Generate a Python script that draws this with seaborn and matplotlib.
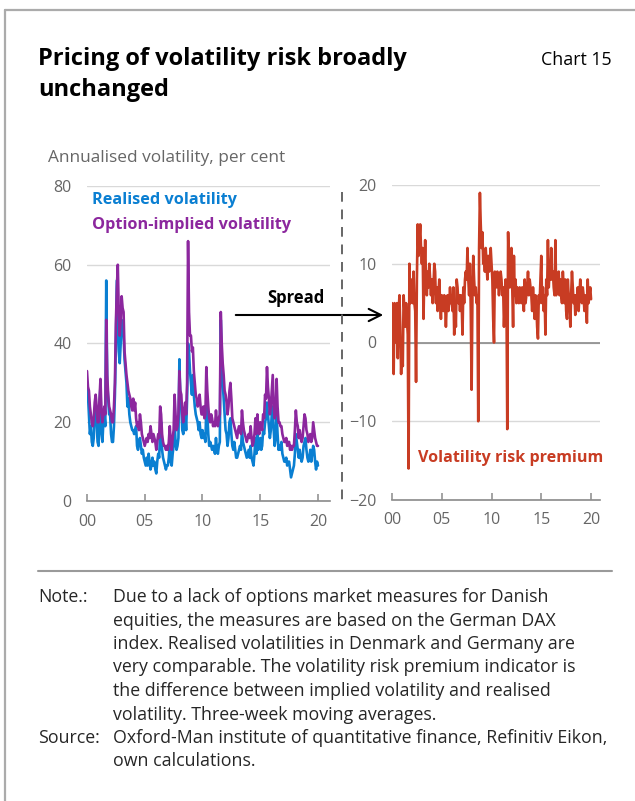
import seaborn as sns
import matplotlib.pyplot as plt
from matplotlib.lines import Line2D
import pandas as pd
import numpy as np

# monthly readings, Jan 2000 .. Jan 2020
realised = [
    30, 27, 22, 17, 19, 15, 14, 16, 23, 25, 20, 15,   # 2000
    14, 25, 29, 17, 15, 20, 22, 19, 56, 30, 26, 22,   # 2001
    22, 17, 15, 15, 19, 27, 40, 56, 47, 38, 35, 40,   # 2002
    46, 44, 42, 36, 33, 30, 24, 26, 22, 20, 19, 18,   # 2003
    18, 17, 18, 19, 14, 13, 15, 16, 14, 12, 13, 11,   # 2004
    10, 9, 11, 9, 12, 10, 8, 9, 11, 9, 10, 8,         # 2005
    7, 10, 12, 11, 18, 20, 13, 11, 10, 9, 8, 9,       # 2006
    9, 11, 15, 10, 9, 12, 14, 20, 15, 13, 14, 16,     # 2007
    36, 25, 24, 18, 17, 19, 22, 18, 26, 40, 38, 33,   # 2008
    30, 27, 32, 27, 24, 22, 21, 20, 18, 20, 17, 16,   # 2009
    18, 16, 17, 15, 24, 22, 17, 14, 15, 14, 13, 14,   # 2010
    13, 12, 16, 13, 12, 14, 15, 46, 36, 30, 26, 22,   # 2011
    18, 17, 14, 16, 20, 21, 17, 14, 13, 15, 13, 11,   # 2012
    11, 12, 13, 14, 13, 18, 15, 14, 13, 12, 11, 12,   # 2013
    13, 11, 14, 11, 10, 9, 12, 16, 12, 17, 13, 14,    # 2014
    16, 13, 14, 18, 17, 20, 21, 25, 22, 19, 16, 18,   # 2015
    22, 24, 18, 14, 16, 22, 17, 13, 14, 13, 15, 12,   # 2016
    11, 10, 10, 11, 9, 10, 10, 8, 6, 7, 8, 9,         # 2017
    12, 17, 15, 13, 11, 13, 11, 10, 11, 14, 15, 16,   # 2018
    13, 11, 10, 11, 13, 10, 12, 14, 13, 10, 8, 10,    # 2019
    9,                                                # 2020
]

implied = [
    33, 29, 28, 24, 22, 20, 19, 21, 25, 27, 24, 20,   # 2000
    20, 26, 31, 23, 20, 22, 24, 22, 46, 32, 27, 24,   # 2001
    23, 22, 20, 20, 24, 30, 45, 54, 60, 48, 42, 46,   # 2002
    52, 49, 48, 38, 35, 32, 30, 28, 27, 26, 24, 23,   # 2003
    26, 23, 25, 21, 19, 20, 18, 22, 20, 17, 16, 15,   # 2004
    14, 15, 16, 15, 17, 16, 19, 17, 15, 17, 16, 15,   # 2005
    13, 15, 17, 16, 24, 22, 17, 15, 14, 14, 13, 14,   # 2006
    13, 15, 19, 15, 13, 16, 18, 27, 22, 18, 19, 22,   # 2007
    33, 28, 27, 22, 20, 23, 25, 22, 30, 66, 48, 42,   # 2008
    42, 38, 39, 33, 30, 27, 26, 24, 25, 27, 24, 22,   # 2009
    22, 24, 21, 22, 34, 28, 24, 21, 20, 22, 21, 19,   # 2010
    20, 19, 23, 20, 19, 21, 22, 48, 40, 35, 32, 28,   # 2011
    27, 25, 22, 24, 28, 30, 26, 21, 20, 19, 18, 17,   # 2012
    16, 18, 19, 18, 17, 23, 20, 18, 17, 16, 15, 16,   # 2013
    17, 16, 19, 16, 14, 15, 17, 21, 17, 22, 18, 17,   # 2014
    20, 19, 18, 22, 21, 27, 26, 34, 29, 26, 22, 24,   # 2015
    28, 32, 24, 21, 22, 31, 24, 20, 20, 19, 19, 17,   # 2016
    16, 15, 15, 16, 14, 15, 15, 13, 14, 13, 14, 14,   # 2017
    18, 23, 20, 19, 16, 18, 16, 15, 16, 19, 22, 21,   # 2018
    18, 17, 15, 16, 17, 15, 16, 20, 18, 16, 15, 14,   # 2019
    14,                                               # 2020
]

premium = [
    5, 1, -4, 5, 3, 0, 5, -2, 4, 6, 2, -4,            # 2000
    0, -3, 6, 4, 2, 5, 3, 1, -16, 10, 5, 8,           # 2001
    6, 5, 9, 5, 4, -5, 8, 15, 11, 13, 15, 12,         # 2002
    10, 12, 3, 9, 13, 8, 6, 9, 7, 10, 8, 6,           # 2003
    8, 5, 7, 10, 9, 5, 7, 4, 6, 8, 5, 3,              # 2004
    6, 5, 4, 6, 5, 2, 5, 6, 4, 5, 7, 5,               # 2005
    6, 4, 7, 1, 5, 2, 8, 7, 5, 6, 4, 6,               # 2006
    5, 1, 7, 5, 8, 9, 8, 12, 8, 6, 10, 4,             # 2007
    -6, 6, 11, 8, 6, 7, 5, 6, -10, 12, 19, 15,        # 2008
    12, 14, 10, 11, 9, 12, 10, 8, 11, 9, 10, 12,      # 2009
    10, 8, 3, 0, 9, 8, 7, 9, 8, 6, 8, 9,              # 2010
    8, 6, 7, 2, 5, 8, 6, -11, 14, 9, 7, 10,           # 2011
    12, 7, 2, 11, 6, 8, 5, 7, 6, 5, 7, 6,             # 2012
    5, 7, 6, 4, 8, 5, 6, 7, 9, 6, 8, 7,               # 2013
    6, 4, 7, 5, 3, 6, 5, 2, 0.5, 6, 5, 8,             # 2014
    11, 5, 7, 4, 6, 1, 8, 6, 13, 7, 9, 8,             # 2015
    12, 8, 9, 7, 6, 13, 6, 8, 7, 9, 6, 8,             # 2016
    6, 5, 9, 7, 5, 8, 4, 3, 8, 6, 5, 2,               # 2017
    6, 9, 7, 5, 6, 3.5, 6, 5, 7, 4, 6, 8,             # 2018
    6, 5, 7, 6, 4, 6, 5, 2.5, 8, 5, 6, 7,             # 2019
    5.5,                                              # 2020
]

year_ticks = [2000, 2005, 2010, 2015, 2020]
year_labels = ["00", "05", "10", "15", "20"]

note_lines = [
    "Due to a lack of options market measures for Danish",
    "equities, the measures are based on the German DAX",
    "index. Realised volatilities in Denmark and Germany are",
    "very comparable. The volatility risk premium indicator is",
    "the difference between implied volatility and realised",
    "volatility. Three-week moving averages.",
]
source_lines = [
    "Oxford-Man institute of quantitative finance, Refinitiv Eikon,",
    "own calculations.",
]

BLUE = "#0a7fd2"
PURPLE = "#8c279e"
RED = "#c83c23"
GRID = "#d9d9d9"
TICK = "#666666"

years = 2000 + np.arange(len(realised)) / 12
vol = pd.DataFrame({
    "year": np.concatenate([years, years]),
    "value": realised + implied,
    "series": ["Realised"] * len(realised) + ["Implied"] * len(implied),
})
vrp = pd.DataFrame({"year": 2000 + np.arange(len(premium)) / 12, "value": premium})

sns.set_theme(style="white")
plt.rcParams["font.family"] = ["Open Sans", "DejaVu Sans"]

W, H = 635, 801
fig = plt.figure(figsize=(W / 100, H / 100), dpi=100)

def fx(px):
    return px / W

def fy(px):
    return 1 - px / H

ax1 = fig.add_axes([fx(87), 300 / H, 243 / W, 315 / H])
ax2 = fig.add_axes([fx(392), 301 / H, 208 / W, 315 / H])

sns.lineplot(data=vol, x="year", y="value", hue="series",
             palette={"Realised": BLUE, "Implied": PURPLE},
             hue_order=["Realised", "Implied"], linewidth=1.9,
             legend=False, ax=ax1)
sns.lineplot(data=vrp, x="year", y="value", color=RED, linewidth=1.9, ax=ax2)

for ax in (ax1, ax2):
    ax.set_xlabel("")
    ax.set_ylabel("")
    for s in ("left", "right", "top"):
        ax.spines[s].set_visible(False)
    ax.spines["bottom"].set_color("#8a8a8a")
    ax.spines["bottom"].set_linewidth(1.2)
    ax.set_xticks(year_ticks)
    ax.set_xticklabels(year_labels)
    ax.tick_params(axis="x", direction="in", length=5, width=1.1, color="#8a8a8a",
                   labelsize=11.5, labelcolor=TICK, pad=9, bottom=True)
    ax.tick_params(axis="y", length=0, labelsize=11.5, labelcolor=TICK, pad=11)
    ax.grid(axis="y", color=GRID, linewidth=1)
    ax.set_axisbelow(True)

ax1.set_xlim(2000, 2021.04)
ax1.set_ylim(0, 80)
ax1.set_yticks([0, 20, 40, 60, 80])

ax2.set_xlim(2000, 2020.9)
ax2.set_ylim(-20, 20)
ax2.set_yticks([-20, -10, 0, 10, 20])
ax2.axhline(0, color="#8a8a8a", linewidth=1.2, zorder=1)

# frame and separators
fig.add_artist(Line2D([fx(5), fx(5)], [0, fy(10)], color="#ababab", lw=1.6))
fig.add_artist(Line2D([fx(5), 1], [fy(10), fy(10)], color="#ababab", lw=1.6))
fig.add_artist(Line2D([fx(38), fx(612)], [fy(571), fy(571)], color="#9a9a9a", lw=1.5))
fig.add_artist(Line2D([fx(342), fx(342)], [fy(192), fy(500)], color="#666666",
                      lw=1.4, linestyle=(0, (5, 4))))

# titles and labels
fig.text(fx(38), fy(65), "Pricing of volatility risk broadly", fontsize=17,
         fontweight="bold", color="black", va="baseline")
fig.text(fx(38), fy(96), "unchanged", fontsize=17,
         fontweight="bold", color="black", va="baseline")
fig.text(fx(612), fy(60), "Chart 15", fontsize=12.8, color="black",
         ha="right", va="center")
fig.text(fx(48), fy(158), "Annualised volatility, per cent", fontsize=12.4,
         color=TICK, va="center")
fig.text(fx(92), fy(200), "Realised volatility", fontsize=11.7,
         fontweight="bold", color=BLUE, va="center")
fig.text(fx(92), fy(225), "Option-implied volatility", fontsize=11.7,
         fontweight="bold", color=PURPLE, va="center")
fig.text(fx(325), fy(298), "Spread", fontsize=12, fontweight="bold",
         color="black", ha="right", va="center")
fig.text(fx(511), fy(458), "Volatility risk premium", fontsize=11.6,
         fontweight="bold", color=RED, ha="center", va="center")

ax1.annotate("", xy=(fx(386), fy(315)), xytext=(fx(233), fy(315)),
             xycoords="figure fraction", textcoords="figure fraction",
             arrowprops=dict(arrowstyle="->", lw=1.5, color="black",
                             mutation_scale=22))

# notes
y0, dy = 597, 23.5
fs = 12.8
fig.text(fx(38), fy(y0), "Note.:", fontsize=fs, va="center")
for i, line in enumerate(note_lines):
    fig.text(fx(113), fy(y0 + i * dy), line, fontsize=fs, va="center")
ys = y0 + len(note_lines) * dy
fig.text(fx(38), fy(ys), "Source:", fontsize=fs, va="center")
for i, line in enumerate(source_lines):
    fig.text(fx(113), fy(ys + i * dy), line, fontsize=fs, va="center")

fig.savefig("out.png", dpi=100)
